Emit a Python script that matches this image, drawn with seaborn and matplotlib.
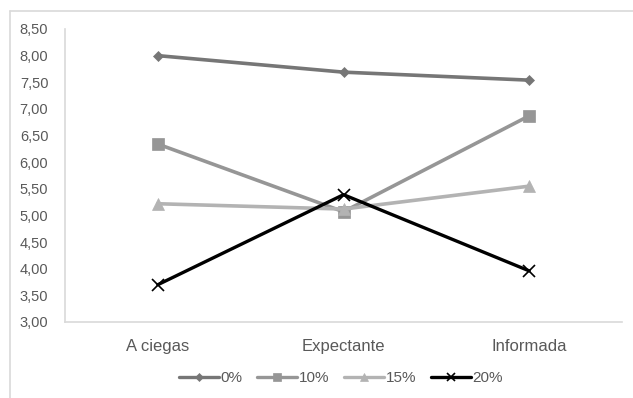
import matplotlib
matplotlib.use("Agg")
import matplotlib.pyplot as plt
import seaborn as sns
import pandas as pd
from matplotlib.lines import Line2D

categories = ["A ciegas", "Expectante", "Informada"]
series = ["0%", "10%", "15%", "20%"]
vals_0 = [8.00, 7.69, 7.54]
vals_10 = [6.34, 5.07, 6.87]
vals_15 = [5.22, 5.12, 5.55]
vals_20 = [3.70, 5.39, 3.96]

colors = ["#767676", "#969696", "#b3b3b3", "#000000"]
markers = ["D", "s", "^", "x"]
msizes = [5, 8, 8, 8]

sns.set_style("white")
plt.rcParams["font.family"] = ["Liberation Sans", "DejaVu Sans"]

df = pd.DataFrame({
    "cat": categories * 4,
    "serie": sum([[s] * 3 for s in series], []),
    "valor": vals_0 + vals_10 + vals_15 + vals_20,
})
df["x"] = df["cat"].map({c: i for i, c in enumerate(categories)})

fig = plt.figure(figsize=(6.33, 3.98), dpi=100)
ax = fig.add_axes([65 / 633, 1 - 322 / 398, (622 - 65) / 633, (322 - 29) / 398])

for s, c, m, ms in zip(series, colors, markers, msizes):
    sub = df[df.serie == s]
    sns.lineplot(
        data=sub, x="x", y="valor", ax=ax, color=c,
        linewidth=2.6 if s != "20%" else 2.4,
        marker=m, markersize=ms, markeredgecolor=c,
        markeredgewidth=1.2 if m == "x" else 0.5,
        legend=False,
    )

ax.set_xlim(-0.5, 2.5)
ax.set_ylim(3.0, 8.5)
ax.set_xticks(range(3))
ax.set_xticklabels(categories)
yt = [3 + 0.5 * i for i in range(12)]
ax.set_yticks(yt)
ax.set_yticklabels([f"{v:.2f}".replace(".", ",") for v in yt])
ax.tick_params(axis="both", length=0, labelsize=10.5, colors="#595959")
ax.tick_params(axis="x", pad=12, labelsize=12)
ax.tick_params(axis="y", pad=12)
ax.set_xlabel("")
ax.set_ylabel("")

sns.despine(ax=ax)
for sp in ["left", "bottom"]:
    ax.spines[sp].set_color("#d9d9d9")
    ax.spines[sp].set_linewidth(1.2)

handles = [
    Line2D([], [], color=c, marker=m, markersize=ms * 0.8, linewidth=2.4,
           markeredgecolor=c, markeredgewidth=1.2 if m == "x" else 0.5)
    for c, m, ms in zip(colors, markers, msizes)
]
fig.legend(handles, series, loc="center", bbox_to_anchor=(341 / 633, 1 - 378 / 398),
           ncol=4, frameon=False, handlelength=2.6, handletextpad=0.1,
           columnspacing=1.0, fontsize=11, labelcolor="#595959")

# outer frame (top and left edges visible)
fig.add_artist(Line2D([10 / 633, 1.0], [1 - 11 / 398] * 2, color="#d9d9d9", lw=1.2,
                      transform=fig.transFigure))
fig.add_artist(Line2D([10 / 633] * 2, [0, 1 - 11 / 398], color="#d9d9d9", lw=1.2,
                      transform=fig.transFigure))

fig.savefig("out.png", dpi=100)
